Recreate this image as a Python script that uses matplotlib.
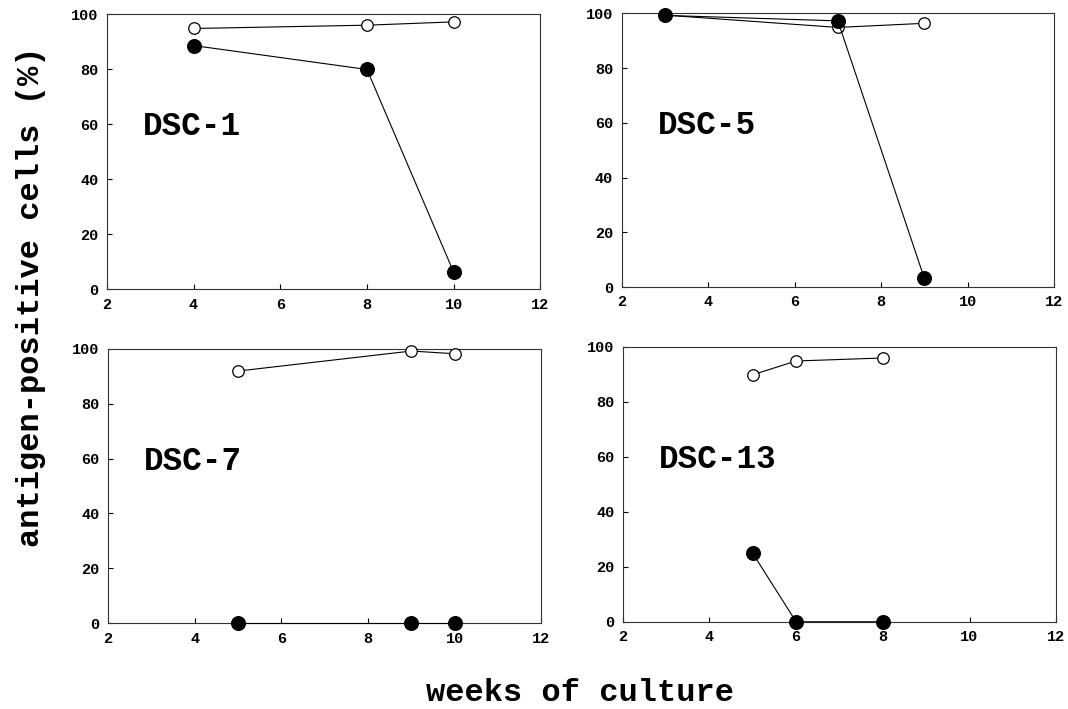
import matplotlib
matplotlib.use('Agg')
import matplotlib.pyplot as plt

# data: weeks of culture vs % antigen-positive cells
names = ['DSC-1', 'DSC-5', 'DSC-7', 'DSC-13']

open_x = [[4, 8, 10], [3, 7, 9], [5, 9, 10], [5, 6, 8]]
open_y = [[94.8, 96.0, 97.2], [99.4, 94.9, 96.4], [91.9, 99.2, 98.2], [89.8, 94.8, 95.9]]

filled_x = [[4, 8, 10], [3, 7, 9], [5, 9, 10], [5, 6, 8]]
filled_y = [[88.6, 79.9, 6.2], [99.3, 97.3, 3.2], [0, 0, 0], [24.9, 0, 0]]

xticks = [2, 4, 6, 8, 10, 12]
yticks = [0, 20, 40, 60, 80, 100]

mono = 'Liberation Mono'

fig = plt.figure(figsize=(10.68, 7.09), dpi=100)

boxes = [
    [0.100, 0.592, 0.406, 0.388],
    [0.582, 0.595, 0.405, 0.386],
    [0.101, 0.121, 0.406, 0.387],
    [0.583, 0.123, 0.406, 0.388],
]

for i in range(4):
    ax = fig.add_axes(boxes[i])
    ax.plot(open_x[i], open_y[i], color='black', lw=0.8, marker='o',
            markersize=8.3, markerfacecolor='white', markeredgecolor='black',
            markeredgewidth=0.9, zorder=3, clip_on=False)
    ax.plot(filled_x[i], filled_y[i], color='black', lw=0.8, marker='o',
            markersize=9.8, markerfacecolor='black', markeredgecolor='black',
            zorder=4, clip_on=False)
    ax.set_xlim(2, 12)
    ax.set_ylim(0, 100)
    ax.set_xticks(xticks)
    ax.set_yticks(yticks)
    ax.tick_params(direction='in', length=3.5, width=0.8, labelsize=11, pad=6,
                   top=False, right=False)
    for lab in ax.get_xticklabels() + ax.get_yticklabels():
        lab.set_fontfamily(mono)
        lab.set_fontweight('bold')
    for s in ax.spines.values():
        s.set_linewidth(0.8)
        s.set_color('#333333')
    ax.text(2.83, 59, names[i], fontsize=23.5, fontweight='bold', family=mono,
            ha='left', va='center')

fig.text(0.029, 0.581, 'antigen-positive cells (%)', rotation=90, fontsize=23,
         fontweight='bold', family=mono, ha='center', va='center')
fig.text(0.543, 0.022, 'weeks of culture', fontsize=23, fontweight='bold',
         family=mono, ha='center', va='center')

fig.savefig('out.png', dpi=100)
